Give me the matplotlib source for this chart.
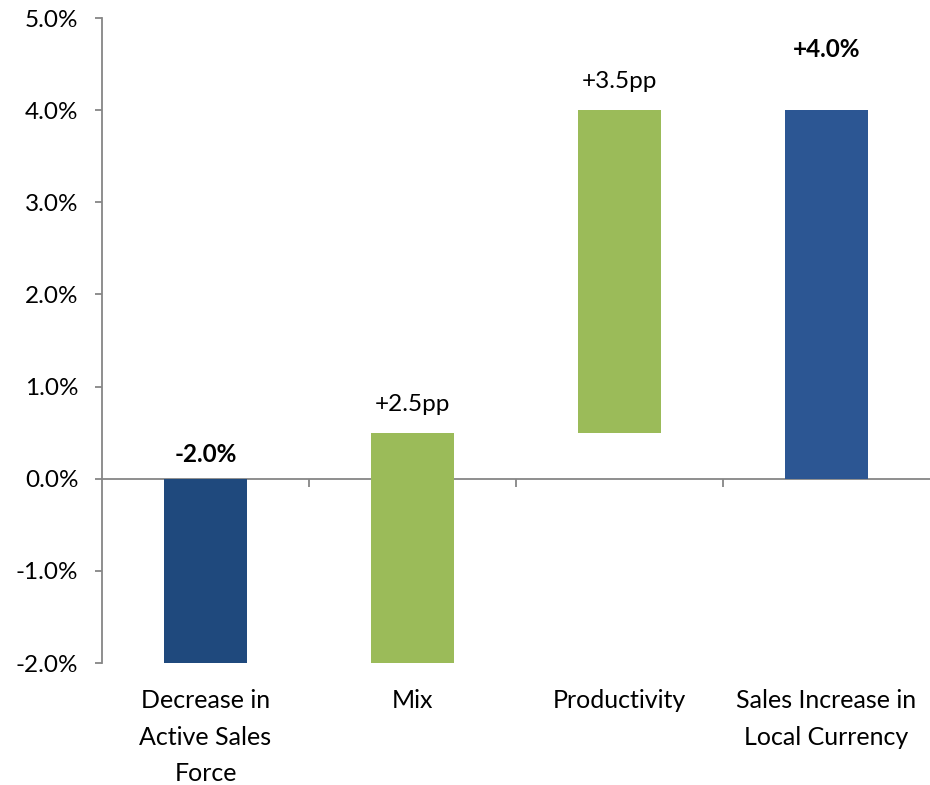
import matplotlib.pyplot as plt
from matplotlib.ticker import FuncFormatter

plt.rcParams['font.family'] = ['Lato', 'DejaVu Sans']

# waterfall data (percent)
categories = ['Decrease in\nActive Sales\nForce', 'Mix', 'Productivity', 'Sales Increase in\nLocal Currency']
bottoms = [0.0, -2.0, 0.5, 0.0]
heights = [-2.0, 2.5, 3.5, 4.0]
labels = ['-2.0%', '+2.5pp', '+3.5pp', '+4.0%']
bold = [True, False, False, True]
colors = ['#1F497D', '#9BBB59', '#9BBB59', '#2C5693']
label_offsets = [24, 28, 29, 61]  # pixels above bar top / zero line

fig = plt.figure(figsize=(9.3, 7.85), dpi=100)
ax = fig.add_axes([102 / 930, 1 - 663 / 785, 828 / 930, 645 / 785])

x = range(len(categories))
ax.bar(x, heights, bottom=bottoms, width=0.4, color=colors, zorder=3)

for i in x:
    top = max(bottoms[i], bottoms[i] + heights[i])
    ax.annotate(labels[i], (i, top), xytext=(0, label_offsets[i]), textcoords='offset pixels',
                ha='center', va='center', fontsize=17.5,
                fontweight='bold' if bold[i] else 'normal')

ax.set_xlim(-0.5, 3.5)
ax.set_ylim(-2.0, 5.0)
ax.set_yticks([-2, -1, 0, 1, 2, 3, 4, 5])
ax.yaxis.set_major_formatter(FuncFormatter(lambda v, p: f'{v:.1f}%'))
ax.set_xticks(list(x))
ax.set_xticklabels(categories, linespacing=1.7)

gray = '#868686'
for s in ['top', 'right', 'bottom']:
    ax.spines[s].set_visible(False)
ax.spines['left'].set_color(gray)
ax.spines['left'].set_linewidth(1.3)
ax.tick_params(axis='y', direction='out', length=5, width=1.3, color=gray, pad=12, labelsize=17.5)
ax.tick_params(axis='x', length=0, pad=19, labelsize=18)

# zero line with category separator ticks
zero = ax.secondary_xaxis(2 / 7)
zero.set_xticks([0.5, 1.5, 2.5])
zero.set_xticklabels([])
zero.spines['bottom'].set_color(gray)
zero.spines['bottom'].set_linewidth(1.3)
zero.tick_params(direction='out', length=6, width=1.3, color=gray)

fig.savefig('out.png', dpi=100)
